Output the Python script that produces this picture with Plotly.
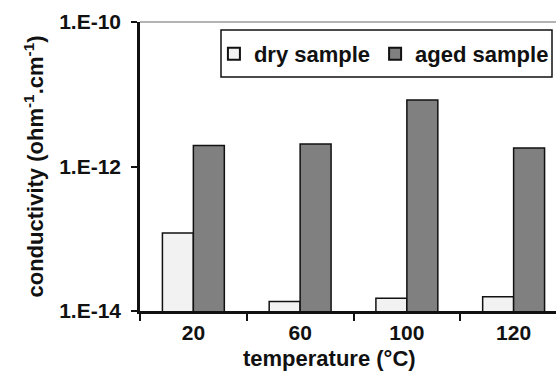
import plotly.graph_objects as go

categories = ["20", "60", "100", "120"]
dry_sample = [1.2e-13, 1.35e-14, 1.5e-14, 1.58e-14]
aged_sample = [1.95e-12, 2.05e-12, 8.3e-12, 1.8e-12]
y_tickvals = [1e-14, 1e-12, 1e-10]
y_ticktext = ["1.E-14", "1.E-12", "1.E-10"]

FONT = "Liberation Sans, Arial, sans-serif"

fig = go.Figure()
fig.add_trace(go.Bar(
    x=categories, y=dry_sample, name="dry sample",
    marker=dict(color="#f2f2f2", line=dict(color="#111111", width=1.5)),
))
fig.add_trace(go.Bar(
    x=categories, y=aged_sample, name="aged sample",
    marker=dict(color="#808080", line=dict(color="#111111", width=1.5)),
))

fig.update_layout(
    width=556, height=371,
    margin=dict(l=140, r=0, t=22, b=60),
    paper_bgcolor="white", plot_bgcolor="white",
    font=dict(family=FONT, size=21, color="#111111", weight="bold"),
    barmode="group", bargap=0.42, bargroupgap=0,
    showlegend=True,
    legend=dict(
        orientation="h", x=0.995, xanchor="right", y=0.962, yanchor="top",
        borderwidth=0, bgcolor="rgba(0,0,0,0)",
        font=dict(family=FONT, size=22, color="#111111", weight="bold"),
        itemsizing="constant", tracegroupgap=0, itemwidth=30,
    ),
    xaxis=dict(
        type="category", range=[-0.5, 3.397],
        showline=True, linecolor="#111111", linewidth=2.5,
        ticks="outside", tickson="boundaries", ticklen=7, tickwidth=2,
        tickcolor="#111111", showgrid=False, zeroline=False,
        ticklabelstandoff=1,
        tickfont=dict(family=FONT, size=21, color="#111111", weight="bold"),
    ),
    yaxis=dict(
        type="log", range=[-14, -10],
        tickvals=y_tickvals, ticktext=y_ticktext,
        showline=True, linecolor="#111111", linewidth=2.5,
        ticks="outside", ticklen=6, tickwidth=2, tickcolor="#111111",
        showgrid=False, zeroline=False, ticklabelstandoff=6,
        tickfont=dict(family=FONT, size=21, color="#111111", weight="bold"),
    ),
)

fig.add_shape(type="line", xref="paper", yref="paper", x0=0, x1=1, y0=1, y1=1,
              line=dict(color="#9a9a9a", width=1.5))
# legend frame
fig.add_shape(type="rect", xref="paper", yref="paper",
              x0=(221 - 140) / 416, x1=(552 - 140) / 416,
              y0=(311 - 77) / 289, y1=(311 - 30) / 289,
              line=dict(color="#111111", width=1.5), fillcolor="white", layer="below")

fig.add_annotation(
    text="conductivity (ohm<sup>-1</sup>.cm<sup>-1</sup>)",
    xref="paper", yref="paper", x=(33 - 140) / 416, y=0.5,
    xanchor="center", yanchor="middle", textangle=-90, showarrow=False,
    font=dict(family=FONT, size=22, color="#111111", weight="bold"),
)
fig.add_annotation(
    text="temperature (°C)",
    xref="paper", yref="paper", x=(329 - 140) / 416, y=(311 - 359) / 289,
    xanchor="center", yanchor="middle", showarrow=False,
    font=dict(family=FONT, size=22, color="#111111", weight="bold"),
)

fig.write_html("out.html")
